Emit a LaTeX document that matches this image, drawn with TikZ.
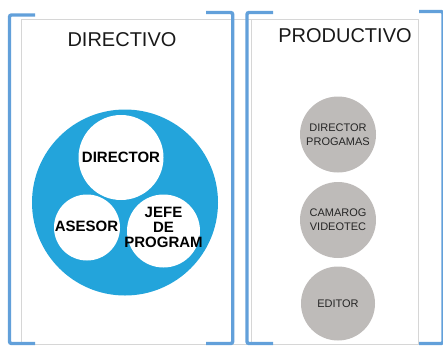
\documentclass[tikz,border=0pt]{standalone}
\usepackage{fontspec}
\setmainfont{Liberation Sans}
\usetikzlibrary{positioning}
\definecolor{bracketblue}{RGB}{98,160,218}
\definecolor{hubblue}{RGB}{35,164,219}
\definecolor{rolegray}{RGB}{190,187,185}
\definecolor{panelgray}{RGB}{214,214,214}
\tikzset{
  bracket/.style={line width=3.4pt, color=bracketblue, rounded corners=2pt},
  panel/.style={draw=panelgray, line width=0.8pt},
  heading/.style={font=\fontsize{20}{22}\selectfont, text=black!90},
  hubdisc/.style={circle, fill=white, inner sep=0pt},
  hubtext/.style={inner sep=0pt, align=center, font=\fontsize{15}{15}\selectfont\bfseries},
  prodrole/.style={circle, fill=rolegray, minimum size=76pt, inner sep=0pt, align=center, font=\fontsize{11}{14}\selectfont, text=black!85}
}

\begin{document}
\begin{tikzpicture}[x=1pt, y=-1pt]
			%%%%% START %%%%%
			\useasboundingbox (0, 0) rectangle (443, 348);

			% panels
			\draw[panel] (21.7, 19.3) rectangle (251.7, 344);
			\draw[panel] (251.7, 19.3) rectangle (418, 344);

			% brackets
			\draw[bracket] (35, 15) -- (9.5, 15) -- (9.5, 343.5) -- (35, 343.5);
			\draw[bracket] (206, 12.5) -- (232.7, 12.5) -- (232.7, 343.5) -- (206, 343.5);
			\draw[bracket] (273, 12.5) -- (247, 12.5) -- (247, 343.5) -- (273, 343.5);
			\draw[bracket] (419, 11.5) -- (443, 11.5) -- (443, 343.5) -- (419, 343.5);

			% directivo
			\node[heading] (directivo) at (122, 39.5) {DIRECTIVO};
			\fill[hubblue] (125, 202.5) circle (93);
			\node[hubdisc, minimum size=85pt] (director) at (121, 157.5) {};
			\node[hubdisc, minimum size=66pt] (asesor) at (87, 227.5) {};
			\node[hubdisc, minimum size=73pt] (jefe) at (163.5, 231) {};
			\node[hubtext] (directorlabel) at (director) {DIRECTOR};
			\node[hubtext] (asesorlabel) at (86.5, 226.5) {ASESOR};
			\node[hubtext] (jefelabel) at (163.5, 227) {JEFE\\DE\\PROGRAM};

			% productivo
			\node[heading] (productivo) at (345, 35.5) {PRODUCTIVO};
			\node[prodrole] (dirprog) at (338, 134.5) {DIRECTOR\\PROGAMAS};
			\node[prodrole] (camarog) at (338, 220) {CAMAROG\\VIDEOTEC};
			\node[prodrole, minimum size=74pt] (editor) at (338, 303.5) {EDITOR};

			%%%%% END %%%%%
		\end{tikzpicture}
\end{document}
